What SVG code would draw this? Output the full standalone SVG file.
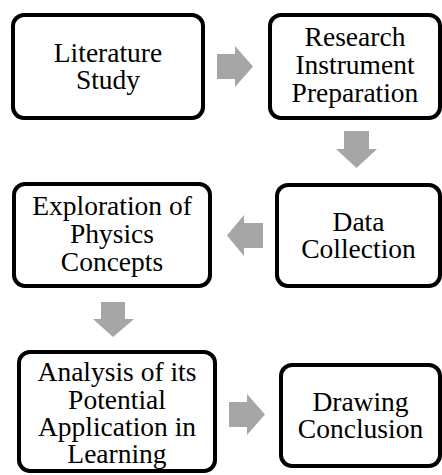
<svg xmlns="http://www.w3.org/2000/svg" width="442" height="475" viewBox="0 0 442 475">
<style>
.box{fill:#fff;stroke:#000;stroke-width:4}
.t{font-family:"Liberation Serif","Times New Roman",serif;font-size:27.5px;fill:#000;text-anchor:middle}
.arr{fill:#A6A6A6;stroke:none}
</style>
<rect width="442" height="475" fill="#fff"/>
<g id="connectors">
<polygon class="arr" points="217,54 235,54 235,46 253,66.5 235,87 235,79 217,79"/>
<polygon class="arr" points="344,131 369,131 369,149 377,149 356.5,168 336,149 344,149"/>
<polygon class="arr" points="263,223 244,223 244,215 227,235.5 244,256 244,248 263,248"/>
<polygon class="arr" points="101,302 125,302 125,319 134,319 113,337 93,319 101,319"/>
<polygon class="arr" points="229,402 247,402 247,394 265,414.5 247,435 247,427 229,427"/>
</g>
<g id="literature-study">
<rect class="box" x="13" y="15" width="190" height="103" rx="11"/>
<text class="t" x="108" y="62">Literature</text>
<text class="t" x="108" y="89">Study</text>
</g>
<g id="research-instrument">
<rect class="box" x="270" y="15" width="170" height="103" rx="11"/>
<text class="t" x="355" y="46">Research</text>
<text class="t" x="355" y="74">Instrument</text>
<text class="t" x="355" y="102">Preparation</text>
</g>
<g id="data-collection">
<rect class="box" x="277" y="185" width="163" height="101" rx="11"/>
<text class="t" x="358.5" y="231">Data</text>
<text class="t" x="358.5" y="258">Collection</text>
</g>
<g id="exploration">
<rect class="box" x="14" y="184" width="196" height="102" rx="11"/>
<text class="t" x="112" y="215">Exploration of</text>
<text class="t" x="112" y="243">Physics</text>
<text class="t" x="112" y="271">Concepts</text>
</g>
<g id="analysis">
<rect class="box" x="19" y="352" width="196" height="119" rx="11"/>
<text class="t" x="117" y="381">Analysis of its</text>
<text class="t" x="117" y="409">Potential</text>
<text class="t" x="117" y="436">Application in</text>
<text class="t" x="117" y="463">Learning</text>
</g>
<g id="drawing-conclusion">
<rect class="box" x="281" y="365" width="159" height="101" rx="11"/>
<text class="t" x="360.5" y="411">Drawing</text>
<text class="t" x="360.5" y="438">Conclusion</text>
</g>
</svg>
